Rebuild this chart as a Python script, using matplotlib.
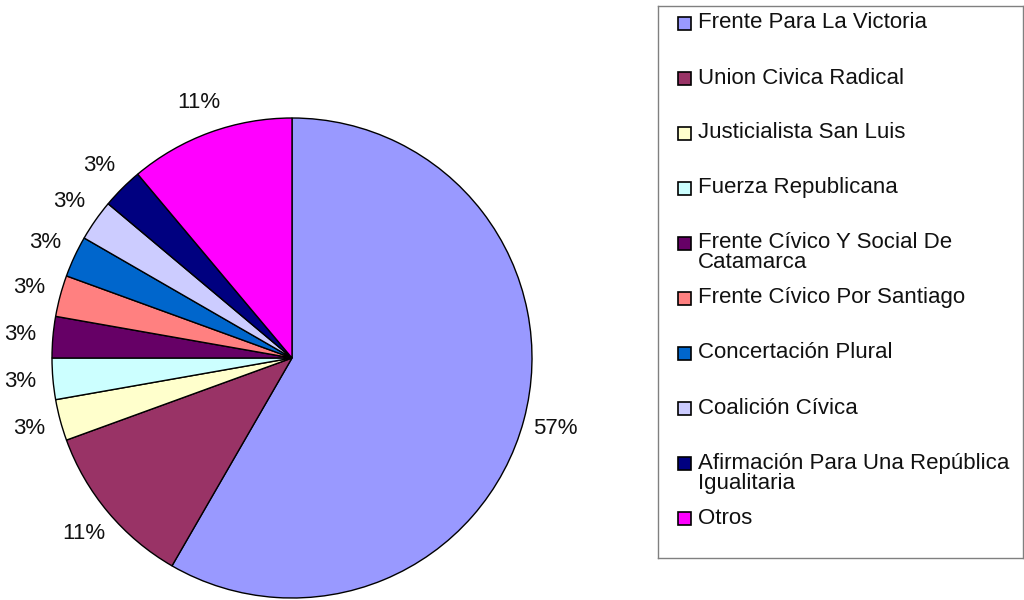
import matplotlib.pyplot as plt
from matplotlib.patches import Rectangle

plt.rcParams['font.family'] = ['Liberation Sans', 'DejaVu Sans']

# datos (bancas)
partidos = ["Frente Para La Victoria",
            "Union Civica Radical",
            "Justicialista San Luis",
            "Fuerza Republicana",
            "Frente Cívico Y Social De\nCatamarca",
            "Frente Cívico Por Santiago",
            "Concertación Plural",
            "Coalición Cívica",
            "Afirmación Para Una República\nIgualitaria",
            "Otros"]
bancas = [21, 4, 1, 1, 1, 1, 1, 1, 1, 4]
etiquetas = ["57%", "11%", "3%", "3%", "3%", "3%", "3%", "3%", "3%", "11%"]
colores = ["#9999FF", "#993366", "#FFFFCC", "#CCFFFF", "#660066",
           "#FF8080", "#0066CC", "#CCCCFF", "#000080", "#FF00FF"]

fig = plt.figure(figsize=(10.24, 6), dpi=100)

# torta
ax = fig.add_axes([52/1024, 2/600, 480/1024, 480/600])
ax.pie(bancas, labels=etiquetas, colors=colores, startangle=90,
       counterclock=False, labeldistance=1.135,
       wedgeprops=dict(edgecolor="black", linewidth=1),
       textprops=dict(fontsize=16, ha="center", va="center", color="#111111"))
ax.set_xlim(-1, 1)
ax.set_ylim(-1, 1)
ax.set_aspect("equal")

# leyenda armada a mano (estilo Excel)
lax = fig.add_axes([658/1024, 42/600, 365/1024, 552/600])
lax.set_xlim(0, 365)
lax.set_ylim(552, 0)
lax.set_xticks([])
lax.set_yticks([])
for s in lax.spines.values():
    s.set_color("#808080")
    s.set_linewidth(1)

for i, (nombre, col) in enumerate(zip(partidos, colores)):
    y = 17 + 55 * i
    lax.add_patch(Rectangle((20, y - 6.5), 13, 13, facecolor=col,
                            edgecolor="black", linewidth=1.2))
    for k, linea in enumerate(nombre.split("\n")):
        lax.text(40, y + 20 * k, linea, fontsize=16, va="center",
                 ha="left", color="#111111")

fig.savefig("out.png", dpi=100)
